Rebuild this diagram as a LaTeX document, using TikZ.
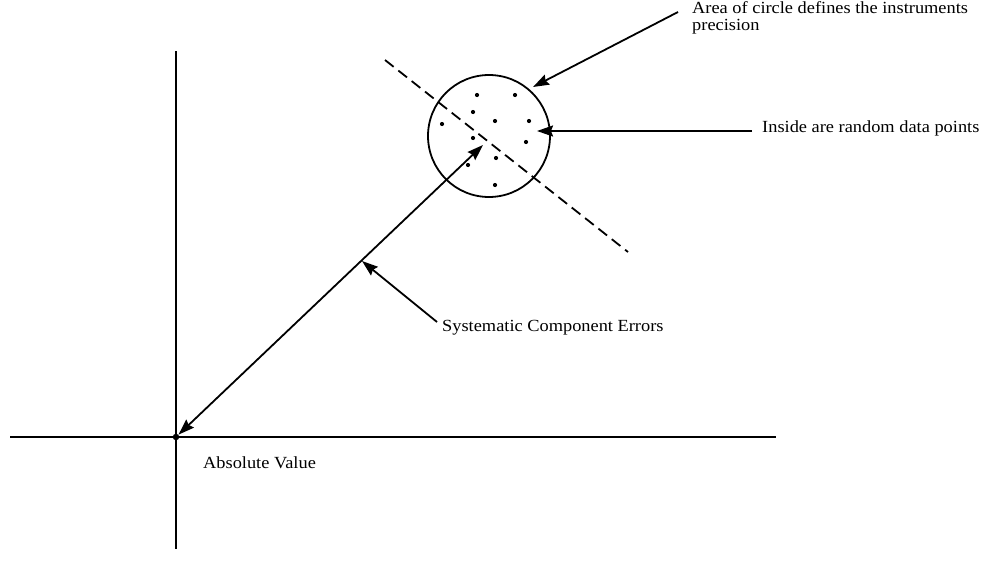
\documentclass[tikz,border=0pt]{standalone}
\usepackage{fontspec}
\setmainfont{Liberation Serif}
\usetikzlibrary{arrows.meta}
\newcommand{\wtxt}[1]{\scalebox{1.08}[1]{#1}}
\begin{document}
\begin{tikzpicture}[x=1pt,y=-1pt,
  axis/.style={line width=1.8pt},
  pointer/.style={line width=1.8pt,-{Stealth[length=16pt,width=11pt,inset=2pt]}},
  label/.style={inner sep=0pt,font=\fontsize{17}{14}\selectfont},
  datadot/.style={circle,fill=black,inner sep=0pt,minimum size=4.2pt},
]
\useasboundingbox (0,0) rectangle (987,562);
% axes
\coordinate (xl) at (10,437);
\coordinate (xr) at (776,437);
\coordinate (yt) at (176,51);
\coordinate (yb) at (176,549);
\draw[axis] (xl) -- (xr);
\draw[axis] (yt) -- (yb);
\node[circle,fill=black,inner sep=0pt,minimum size=6.5pt] (o) at (176,437) {};
% circle
\node[circle,draw,line width=1.8pt,minimum size=122pt,inner sep=0pt] (c) at (489,136) {};
% dashed line
\coordinate (d1) at (385,60);
\coordinate (d2) at (628,252);
\draw[line width=1.8pt,dash pattern=on 11pt off 6pt] (d1) -- (d2);
% data points
\foreach \i/\p in {1/{(477,95)},2/{(515,95)},3/{(473,112)},4/{(495,121)},5/{(529,121)},6/{(442,124)},7/{(473,138)},8/{(526,142)},9/{(496,158)},10/{(468,165)},11/{(495,185)}}
  \node[datadot] (p\i) at \p {};
% systematic double arrow
\coordinate (ctip) at (483,145);
\draw[line width=1.8pt,{Stealth[length=16pt,width=11pt,inset=2pt]}-{Stealth[length=16pt,width=11pt,inset=2pt]}] (o) -- (ctip);
% labels
\node[label,anchor=north west,align=left] (lArea) at (692,1) {\wtxt{Area of circle defines the instruments}\\[3pt]\wtxt{precision}};
\node[label,anchor=base west] (lIn) at (762,132) {\wtxt{Inside are random data points}};
\node[label,anchor=base west] (lSys) at (442,331) {\wtxt{Systematic Component Errors}};
\node[label,anchor=base west] (lAbs) at (203,468) {\wtxt{Absolute Value}};
% pointers
\coordinate (aA) at (678,12);
\coordinate (tA) at (533,87);
\draw[pointer] (aA) -- (tA);
\coordinate (aI) at (752,131);
\coordinate (tI) at (537,131);
\draw[pointer] (aI) -- (tI);
\coordinate (aS) at (437,322);
\coordinate (tS) at (362,261);
\draw[pointer] (aS) -- (tS);
\end{tikzpicture}
\end{document}
